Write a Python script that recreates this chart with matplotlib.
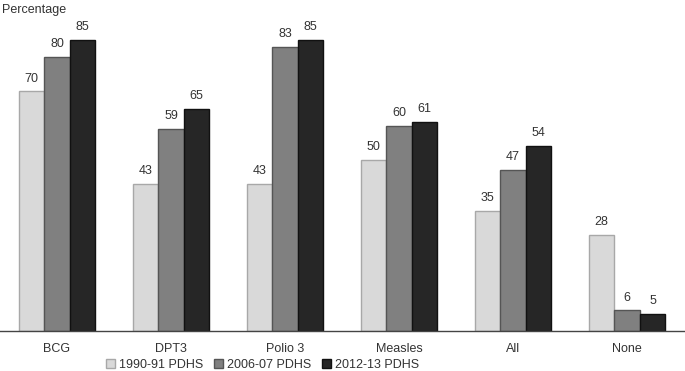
import matplotlib
matplotlib.use("Agg")
import matplotlib.pyplot as plt
import numpy as np

categories = ["BCG", "DPT3", "Polio 3", "Measles", "All", "None"]
series_names = ["1990-91 PDHS", "2006-07 PDHS", "2012-13 PDHS"]
v1990 = [70, 43, 43, 50, 35, 28]
v2006 = [80, 59, 83, 60, 47, 6]
v2012 = [85, 65, 85, 61, 54, 5]

faces = ["#d9d9d9", "#808080", "#262626"]
edges = ["#a8a8a8", "#555555", "#111111"]

narrow = ["Liberation Sans Narrow", "DejaVu Sans Condensed", "Liberation Sans", "DejaVu Sans"]
plt.rcParams['font.family'] = ["Liberation Sans", "DejaVu Sans"]

fig = plt.figure(figsize=(6.85, 3.71), dpi=100)
ax = fig.add_axes([0.0, 0.108, 0.9985, 0.830])

x = np.arange(len(categories))
w = 0.224
for i, (vals, name) in enumerate(zip([v1990, v2006, v2012], series_names)):
    pos = x + (i - 1) * w
    ax.bar(pos, vals, width=w, color=faces[i], edgecolor=edges[i],
           linewidth=1.0, label=name, zorder=2)
    for xp, v in zip(pos, vals):
        ax.text(xp, v + 2.0, f"{v}", ha="center", va="bottom",
                fontsize=9, color="#333333")

ax.set_xlim(-0.5, 5.5)
ax.set_ylim(0, 90)
for s in ["top", "right", "left"]:
    ax.spines[s].set_visible(False)
ax.spines["bottom"].set_color("#444444")
ax.spines["bottom"].set_linewidth(1.0)
ax.set_yticks([])
ax.set_xticks(x)
ax.set_xticklabels(categories, fontsize=9, color="#333333", family=narrow)
ax.tick_params(axis="x", length=0, pad=9)

fig.text(0.003, 0.99, "Percentage", ha="left", va="top", fontsize=9, color="#333333")

leg = fig.legend(loc="center", bbox_to_anchor=(0.383, 0.016), ncol=3, frameon=False,
                 prop={"family": narrow, "size": 9}, handlelength=0.7, handleheight=0.7,
                 handletextpad=0.3, columnspacing=0.9, borderpad=0.1)
for t in leg.get_texts():
    t.set_color("#333333")

fig.savefig("out.png", dpi=100)
